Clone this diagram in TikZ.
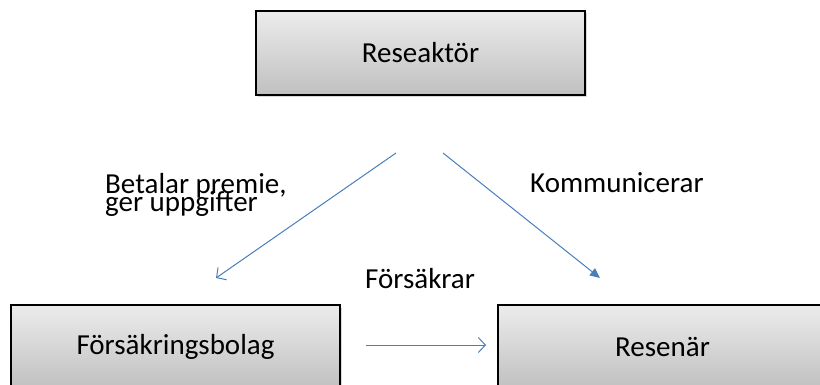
\documentclass[tikz,border=0pt]{standalone}
\usepackage{fontspec}
\setmainfont{Carlito}
\usetikzlibrary{arrows,arrows.meta,shadows}

\definecolor{flowblue}{HTML}{4A7EBB}
\definecolor{boxtop}{HTML}{ECECEC}
\definecolor{boxbottom}{HTML}{C0C0C0}
\newcommand\diagfont{\fontsize{29}{18}\selectfont\lineskiplimit=-50pt\relax}

\begin{document}
\begin{tikzpicture}[x=1pt,y=-1pt,font=\diagfont]
        \tikzstyle{box}=[draw=black,line width=1.3pt,top color=boxtop,bottom color=boxbottom,
                         minimum width=329pt,minimum height=84pt,inner sep=0pt,
                         drop shadow={shadow xshift=2pt,shadow yshift=-2.5pt,opacity=0.3}]
        \tikzstyle{flow}=[draw=flowblue,line width=1pt]
        \tikzstyle{label}=[inner sep=0pt,text=black]
        \useasboundingbox (0,0) rectangle (820,385);

        \node[box] (agent)    at (420.5,53)  {Reseaktör};
        \node[box] (insurer)  at (175.5,347) {Försäkringsbolag};
        \node[box] (traveler) at (662.5,347) {Resenär};

        \coordinate (a1) at (396,153);
        \coordinate (a2) at (216,278);
        \coordinate (b1) at (443,153);
        \coordinate (b2) at (600,278);
        \coordinate (c1) at (366,345);
        \coordinate (c2) at (486,345);

        \draw[flow,-{Straight Barb[length=7pt,width=15pt]}] (a1) -- (a2);
        \draw[flow,-{Triangle[length=10pt,width=9pt]}] (b1) -- (b2);
        \draw[flow,-{Straight Barb[length=7pt,width=15pt]}] (c1) -- (c2);

        \node[label,anchor=north west,align=left] (pay) at (105,173) {Betalar premie,\\ger uppgifter};
        \node[label,anchor=base west] (talk)   at (530,193) {Kommunicerar};
        \node[label,anchor=base west] (insure) at (365,288) {Försäkrar};
\end{tikzpicture}
\end{document}
